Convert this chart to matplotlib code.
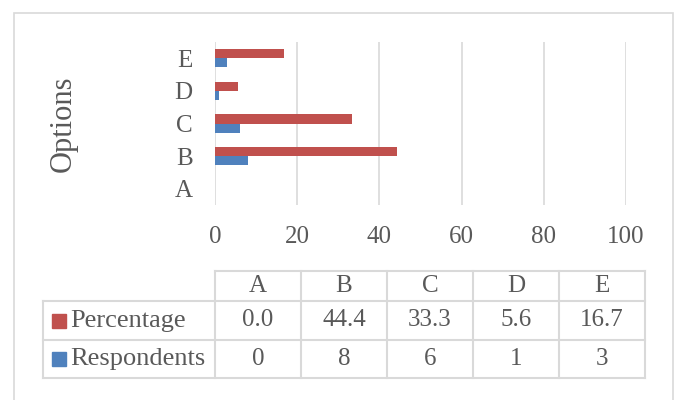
import matplotlib.pyplot as plt
from matplotlib.patches import Rectangle
import numpy as np

plt.rcParams['font.family'] = ['Liberation Serif', 'DejaVu Serif']

# 数据
options = ['A', 'B', 'C', 'D', 'E']
percentage = [0.0, 44.4, 33.3, 5.6, 16.7]
respondents = [0, 8, 6, 1, 3]
xticks = [0, 20, 40, 60, 80, 100]

red = '#C0504D'
blue = '#4F81BD'
grid_c = '#D9D9D9'
text_c = '#595959'

W, H = 676, 400
fig = plt.figure(figsize=(W / 100, H / 100), dpi=100)


def fbox(x0, y0, x1, y1):
    # 像素坐标 -> figure 比例
    return [x0 / W, 1 - y1 / H, (x1 - x0) / W, (y1 - y0) / H]


# 外框
fig.patches.append(Rectangle((14 / W, -0.1), (673 - 14) / W, 1.1 - 13 / H,
                             transform=fig.transFigure, fill=False,
                             edgecolor=grid_c, lw=1.2))

# 条形图
ax = fig.add_axes(fbox(215, 42, 626, 205))
y = np.arange(len(options))
h = 0.28
ax.barh(y - h / 2, respondents, height=h, color=blue, zorder=3)
ax.barh(y + h / 2, percentage, height=h, color=red, zorder=3)
ax.set_xlim(0, 100)
ax.set_ylim(-0.5, len(options) - 0.5)
ax.set_xticks(xticks)
ax.set_yticks(y)
ax.set_yticklabels(options)
ax.grid(axis='x', color=grid_c, lw=1.2, zorder=0)
for s in ax.spines.values():
    s.set_visible(False)
ax.tick_params(length=0, labelsize=18, colors=text_c)
ax.tick_params(axis='x', pad=15)
ax.tick_params(axis='y', pad=16)
ax.set_ylabel('Options', fontsize=22, color=text_c)
ax.yaxis.set_label_coords(78 / W, 1 - 124 / H, transform=fig.transFigure)

# 数据表
tax = fig.add_axes(fbox(43, 271, 645, 378))
tax.set_xlim(0, 7)
tax.set_ylim(107, 0)
tax.axis('off')
rows = [0, 30, 69, 107]
lw = 1.5
for xv in range(2, 8):
    tax.plot([xv, xv], [rows[0], rows[-1]], color=grid_c, lw=lw, clip_on=False)
tax.plot([0, 0], [rows[1], rows[-1]], color=grid_c, lw=lw, clip_on=False)
tax.plot([2, 7], [rows[0], rows[0]], color=grid_c, lw=lw, clip_on=False)
for r in rows[1:]:
    tax.plot([0, 7], [r, r], color=grid_c, lw=lw, clip_on=False)

for i, opt in enumerate(options):
    cx = 2.5 + i
    tax.text(cx, (rows[0] + rows[1]) / 2, opt, ha='center', va='center',
             fontsize=18, color=text_c)
    tax.text(cx, (rows[1] + rows[2]) / 2, f'{percentage[i]:.1f}', ha='center',
             va='center', fontsize=18, color=text_c)
    tax.text(cx, (rows[2] + rows[3]) / 2, f'{respondents[i]}', ha='center',
             va='center', fontsize=18, color=text_c)

for k, (name, col) in enumerate([('Percentage', red), ('Respondents', blue)]):
    yc = (rows[k + 1] + rows[k + 2]) / 2
    tax.add_patch(Rectangle((9 / 86, yc - 7), 14 / 86, 14, color=col))
    tax.text(27 / 86, yc, name, ha='left', va='center', fontsize=19, color=text_c)

plt.savefig('out.png', dpi=100)
plt.close()
